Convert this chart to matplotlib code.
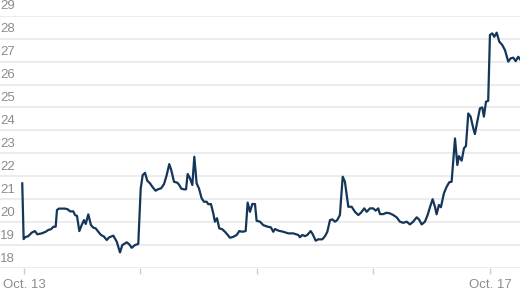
import matplotlib
matplotlib.use("Agg")
import matplotlib.pyplot as plt

# days since Oct. 13 and values
days = [-0.015, -0.003, 0.009, 0.037, 0.066, 0.094, 0.114, 0.152, 0.186, 0.209,
        0.232, 0.252, 0.272, 0.283, 0.300, 0.352, 0.375, 0.395, 0.423, 0.438,
        0.455, 0.475, 0.495, 0.515, 0.530, 0.552, 0.575, 0.595, 0.615, 0.638,
        0.661, 0.687, 0.710, 0.732, 0.767, 0.796, 0.824, 0.844, 0.882, 0.904,
        0.924, 0.953, 0.981, 1.002, 1.019, 1.039, 1.058, 1.082, 1.105, 1.130,
        1.153, 1.176, 1.202, 1.225, 1.247, 1.264, 1.288, 1.316, 1.333, 1.350,
        1.373, 1.391, 1.405, 1.425, 1.445, 1.462, 1.482, 1.502, 1.525, 1.545,
        1.568, 1.582, 1.605, 1.625, 1.639, 1.657, 1.676, 1.702, 1.725, 1.749,
        1.768, 1.797, 1.826, 1.848, 1.874, 1.903, 1.920, 1.940, 1.960, 1.983,
        1.997, 2.026, 2.054, 2.092, 2.120, 2.140, 2.155, 2.183, 2.226, 2.269,
        2.312, 2.355, 2.369, 2.389, 2.412, 2.432, 2.461, 2.478, 2.504, 2.526,
        2.561, 2.584, 2.604, 2.627, 2.647, 2.670, 2.689, 2.712, 2.736, 2.755,
        2.784, 2.813, 2.841, 2.870, 2.893, 2.921, 2.942, 2.970, 2.998, 3.019,
        3.041, 3.056, 3.084, 3.113, 3.142, 3.170, 3.199, 3.227, 3.256, 3.285,
        3.313, 3.341, 3.371, 3.391, 3.414, 3.442, 3.465, 3.485, 3.508, 3.528,
        3.542, 3.562, 3.579, 3.605, 3.628, 3.651, 3.671, 3.700, 3.720, 3.734,
        3.757, 3.777, 3.794, 3.814, 3.834, 3.857, 3.871, 3.891, 3.914, 3.934,
        3.948, 3.966, 3.985, 4.000, 4.020, 4.037, 4.058, 4.080, 4.106, 4.129,
        4.157, 4.178, 4.200, 4.221, 4.243, 4.258]
values = [21.69, 19.26, 19.34, 19.39, 19.54, 19.61, 19.47, 19.51, 19.58, 19.66,
          19.69, 19.80, 19.80, 20.53, 20.59, 20.59, 20.56, 20.47, 20.47, 20.31,
          20.27, 19.61, 19.87, 20.09, 19.92, 20.34, 19.87, 19.76, 19.73, 19.58,
          19.44, 19.37, 19.22, 19.34, 19.41, 19.15, 18.68, 19.00, 19.12, 19.03,
          18.88, 19.00, 19.05, 21.47, 22.05, 22.15, 21.81, 21.69, 21.52, 21.37,
          21.44, 21.47, 21.66, 22.05, 22.53, 22.27, 21.76, 21.72, 21.62, 21.46,
          21.43, 21.43, 22.10, 21.91, 21.62, 22.85, 21.69, 21.47, 21.04, 20.89,
          20.89, 20.78, 20.79, 20.38, 20.02, 20.17, 19.73, 19.69, 19.58, 19.44,
          19.32, 19.36, 19.44, 19.61, 19.58, 19.61, 20.85, 20.45, 20.79, 20.79,
          20.06, 20.02, 19.87, 19.80, 19.77, 19.58, 19.70, 19.63, 19.58, 19.51,
          19.51, 19.44, 19.34, 19.44, 19.39, 19.44, 19.61, 19.48, 19.19, 19.25,
          19.25, 19.39, 19.58, 20.09, 20.12, 20.02, 20.09, 20.31, 21.98, 21.76,
          20.67, 20.67, 20.45, 20.31, 20.41, 20.60, 20.45, 20.60, 20.60, 20.50,
          20.60, 20.35, 20.35, 20.41, 20.38, 20.31, 20.21, 20.02, 19.97, 20.02,
          19.90, 20.02, 20.21, 20.12, 19.90, 20.02, 20.31, 20.65, 21.00, 20.67,
          20.34, 20.75, 20.65, 21.26, 21.54, 21.74, 21.76, 23.65, 22.49, 22.88,
          22.68, 23.22, 23.32, 24.74, 24.60, 24.09, 23.84, 24.38, 24.96, 25.00,
          24.60, 25.25, 25.29, 28.16, 28.23, 28.08, 28.26, 27.87, 27.72, 27.50,
          27.00, 27.14, 27.17, 27.02, 27.21, 27.10]

tick_days = [0, 1, 2, 3, 4]
tick_labels = ["Oct. 13", "", "", "", "Oct. 17"]
y_ticks = [18, 19, 20, 21, 22, 23, 24, 25, 26, 27, 28, 29]

plt.rcParams['font.family'] = ['Liberation Sans', 'DejaVu Sans']

fig = plt.figure(figsize=(5.2, 2.93), dpi=100)
ax = fig.add_axes([0, 0.0853, 1, 0.8611])
ax.plot(days, values, color='#14365a', lw=1.6, solid_joinstyle='round', zorder=3)

ax.set_xlim(-0.206, 4.258)
ax.set_ylim(18, 29)
for s in ax.spines.values():
    s.set_visible(False)

ax.set_yticks(y_ticks)
ax.yaxis.grid(True, color='#ebebeb', lw=1.3)
ax.tick_params(axis='y', length=0, labelleft=False)
for v in y_ticks:
    ax.annotate(str(v), xy=(0, v), xycoords=('axes fraction', 'data'),
                xytext=(0, 2.5), textcoords='offset points',
                ha='left', va='bottom', fontsize=9.5, color='#8c8c8c')

ax.set_xticks(tick_days)
ax.set_xticklabels(tick_labels)
ax.tick_params(axis='x', length=4, width=1, color='#cccccc', pad=4,
               labelsize=9.5, labelcolor='#8c8c8c')

fig.savefig('out.png', dpi=100)
